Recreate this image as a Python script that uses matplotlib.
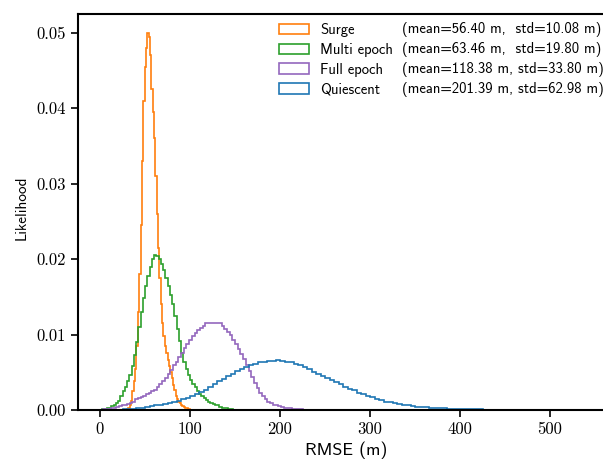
import numpy as np
import matplotlib
matplotlib.use("Agg")
import matplotlib.pyplot as plt

# ---------------- data ----------------
labels = ["Surge", "Multi epoch", "Full epoch", "Quiescent"]
stats = ["(mean=56.40 m,  std=10.08 m)",
         "(mean=63.46 m,  std=19.80 m)",
         "(mean=118.38 m, std=33.80 m)",
         "(mean=201.39 m, std=62.98 m)"]
colors = ["#ff7f0e", "#2ca02c", "#9467bd", "#1f77b4"]

# Surge: 1.5 m bins starting at 30 m
surge_start, surge_width = 30.0, 1.5
surge_vals = [0.0001, 0.0002, 0.0006, 0.0012, 0.0025, 0.0038, 0.0055, 0.0085,
              0.0130, 0.0180, 0.0245, 0.0330, 0.0410, 0.0455, 0.0480, 0.0500,
              0.0495, 0.0470, 0.0425, 0.0395, 0.0360, 0.0310, 0.0260, 0.0215,
              0.0175, 0.0140, 0.0115, 0.0098, 0.0085, 0.0075, 0.0066, 0.0058,
              0.0050, 0.0042, 0.0033, 0.0026, 0.0019, 0.0015, 0.0011, 0.0009,
              0.0007, 0.0005, 0.0004, 0.0003, 0.0002, 0.00015, 0.0001, 0.00005,
              0.00003]

# Multi epoch: 2.5 m bins starting at 0 m
multi_start, multi_width = 0.0, 2.5
multi_vals = [0.00005, 0.0001, 0.0001, 0.0002, 0.0003, 0.0005, 0.0007, 0.0009,
              0.0012, 0.0018, 0.0025, 0.0031, 0.0038, 0.0047, 0.0058, 0.0073,
              0.0090, 0.0110, 0.0130, 0.0148, 0.0165, 0.0178, 0.0190, 0.0200,
              0.0205, 0.0204, 0.0200, 0.0193, 0.0185, 0.0175, 0.0165, 0.0153,
              0.0140, 0.0124, 0.0108, 0.0091, 0.0075, 0.0064, 0.0055, 0.0047,
              0.0040, 0.0035, 0.0030, 0.0025, 0.0021, 0.0018, 0.0016, 0.0013,
              0.0011, 0.0009, 0.0008, 0.0007, 0.0006, 0.0004, 0.0003, 0.00025,
              0.0002, 0.00015, 0.0001, 0.00005]

# Full epoch: 3 m bins starting at 0 m
full_start, full_width = 0.0, 3.0
full_vals = [0.00005, 0.0001, 0.0001, 0.00015, 0.0002, 0.0003, 0.0004, 0.0005,
             0.0006, 0.0007, 0.0008, 0.0009, 0.0011, 0.0014, 0.0016, 0.0017,
             0.0019, 0.0021, 0.0023, 0.0025, 0.0027, 0.0030, 0.0034, 0.0038,
             0.0043, 0.0048, 0.0053, 0.0059, 0.0064, 0.0070, 0.0076, 0.0082,
             0.0088, 0.0093, 0.0098, 0.0102, 0.0106, 0.0109, 0.0112, 0.0115,
             0.0116, 0.0116, 0.0116, 0.0115, 0.0115, 0.0112, 0.0108, 0.0104,
             0.0099, 0.0093, 0.0088, 0.0081, 0.0074, 0.0067, 0.0060, 0.0052,
             0.0044, 0.0036, 0.0029, 0.0023, 0.0018, 0.0014, 0.0011, 0.0009,
             0.0007, 0.0006, 0.0005, 0.0004, 0.0003, 0.00025, 0.0002, 0.00015,
             0.0001, 0.0001, 0.00007, 0.00005, 0.00004, 0.00003, 0.00002, 0.00001]

# Quiescent: 5 m bins starting at 0 m
quies_start, quies_width = 0.0, 5.0
quies_vals = [0.00001, 0.00001, 0.00002, 0.00003, 0.00005, 0.00007, 0.0001, 0.00015,
              0.0002, 0.0003, 0.0004, 0.0005, 0.0006, 0.0007, 0.0008, 0.00095,
              0.0011, 0.00125, 0.0014, 0.0016, 0.0018, 0.0021, 0.0024, 0.0027,
              0.0031, 0.0034, 0.0038, 0.0041, 0.0045, 0.0048, 0.0052, 0.0055,
              0.0057, 0.0059, 0.0061, 0.0063, 0.0064, 0.0065, 0.0065, 0.0066,
              0.0065, 0.0064, 0.0063, 0.0061, 0.0059, 0.0057, 0.0054, 0.0051,
              0.0048, 0.0045, 0.0042, 0.0040, 0.0037, 0.0034, 0.0031, 0.0028,
              0.0026, 0.0023, 0.0021, 0.0019, 0.0017, 0.0015, 0.0013, 0.0011,
              0.0010, 0.0009, 0.0008, 0.0007, 0.0006, 0.0005, 0.00045, 0.0004,
              0.00035, 0.0003, 0.00027, 0.00023, 0.0002, 0.00017, 0.00015, 0.00013,
              0.00012, 0.00011, 0.0001, 0.00009, 0.00008, 0.00006, 0.00005, 0.00004,
              0.00003, 0.00003, 0.00002, 0.00002, 0.00001, 0.00001]

series = [(surge_start, surge_width, surge_vals),
          (multi_start, multi_width, multi_vals),
          (full_start, full_width, full_vals),
          (quies_start, quies_width, quies_vals)]

xticks = [0, 100, 200, 300, 400, 500]
yticks = [0.00, 0.01, 0.02, 0.03, 0.04, 0.05]

# ---------------- figure ----------------
plt.rcParams["font.family"] = "cmss10"
plt.rcParams["axes.unicode_minus"] = False
plt.rcParams["mathtext.fontset"] = "cm"

W, H = 603, 459
fig = plt.figure(figsize=(W / 100, H / 100), dpi=100)
left_px, right_px, top_px, bot_px = 78, 615, 14, 410
ax = fig.add_axes([left_px / W, (H - bot_px) / H,
                   (right_px - left_px) / W, (bot_px - top_px) / H])

for (start, width, vals), lab, col in zip(series, labels, colors):
    vals = np.asarray(vals)
    edges = start + width * np.arange(len(vals) + 1)
    ax.hist(edges[:-1], bins=edges, weights=vals, histtype="step",
            color=col, lw=1.2, label=lab)

# axis scale: 0 m at x=100 px, 0.9 px per m
ax.set_xlim((left_px - 100) / 0.9, (right_px - 100) / 0.9)
ax.set_ylim(0, 0.0525)
ax.set_xticks(xticks)
ax.set_yticks(yticks)
ax.set_xticklabels([str(v) for v in xticks])
ax.set_yticklabels([f"{v:.2f}" for v in yticks])
ax.tick_params(direction="out", length=5, width=1.2, labelsize=12,
               labelfontfamily="cmr10", top=False, right=False)
for sp in ax.spines.values():
    sp.set_linewidth(1.5)

ax.set_xlabel("RMSE (m)", fontsize=13, labelpad=3)
ax.set_ylabel("Likelihood", fontsize=11)
ax.yaxis.set_label_coords(-0.092, 0.51)

fs = 10.6
leg = ax.legend(loc="upper left", bbox_to_anchor=(279 / W, (H - 23) / H),
                bbox_transform=fig.transFigure, frameon=False, fontsize=fs,
                borderpad=0, borderaxespad=0, handlelength=2.05,
                handletextpad=0.75, labelspacing=0.4)

fig.canvas.draw()
inv = fig.transFigure.inverted()
for t, s in zip(leg.get_texts(), stats):
    bb = t.get_window_extent()
    yc = (bb.y0 + bb.y1) / 2
    fx, fy = inv.transform((402, yc))
    fig.text(fx, fy, s, fontsize=fs, va="center", ha="left")

fig.savefig("out.png", dpi=100)
